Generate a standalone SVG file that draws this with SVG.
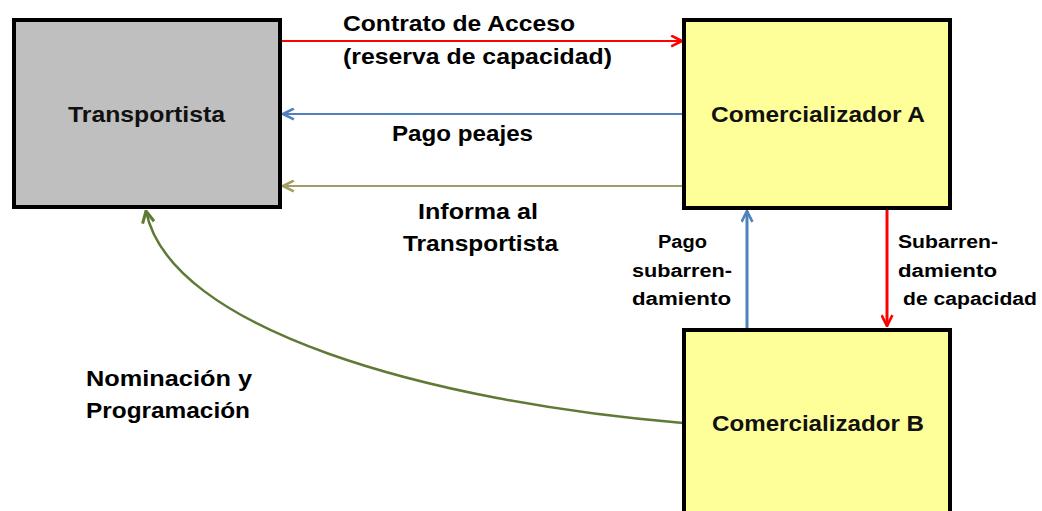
<svg xmlns="http://www.w3.org/2000/svg" width="1042" height="511" viewBox="0 0 1042 511">
<defs>
<style>
.box{stroke:#000;stroke-width:4}
.nt{font-family:"Liberation Sans",Arial,sans-serif;font-size:22px;font-weight:bold;fill:#111;text-anchor:middle}
.lb{font-family:"Liberation Sans",Arial,sans-serif;font-size:22px;font-weight:bold;fill:#000}
.sm{font-family:"Liberation Sans",Arial,sans-serif;font-size:18px;font-weight:bold;fill:#000}
.c{fill:none}
</style>
<marker id="ar" viewBox="0 0 12 12" refX="11" refY="6" markerWidth="12" markerHeight="12" markerUnits="userSpaceOnUse" orient="auto">
<path d="M1,1 L11,6 L1,11" fill="none" stroke="context-stroke" stroke-width="2.2"/>
</marker>
<marker id="ar-red" viewBox="0 0 12 12" refX="11" refY="6" markerWidth="13" markerHeight="13" markerUnits="userSpaceOnUse" orient="auto"><path d="M1,1 L11,6 L1,11" fill="none" stroke="#ff0000" stroke-width="2.4"/></marker>
<marker id="ar-blue" viewBox="0 0 12 12" refX="11" refY="6" markerWidth="13" markerHeight="13" markerUnits="userSpaceOnUse" orient="auto"><path d="M1,1 L11,6 L1,11" fill="none" stroke="#4f81bd" stroke-width="2.4"/></marker>
<marker id="ar-olive" viewBox="0 0 12 12" refX="11" refY="6" markerWidth="13" markerHeight="13" markerUnits="userSpaceOnUse" orient="auto"><path d="M1,1 L11,6 L1,11" fill="none" stroke="#a39c64" stroke-width="2.4"/></marker>
<marker id="ar-green" viewBox="0 0 12 12" refX="11" refY="6" markerWidth="14" markerHeight="14" markerUnits="userSpaceOnUse" orient="auto"><path d="M1,1 L11,6 L1,11" fill="none" stroke="#5e7a34" stroke-width="2.6"/></marker>
</defs>
<rect width="1042" height="511" fill="#fff"/>

<g id="connectors">
<line class="c" x1="281" y1="41" x2="682" y2="41" stroke="#ff0000" stroke-width="2" marker-end="url(#ar-red)"/>
<line class="c" x1="682" y1="114" x2="283" y2="114" stroke="#4f81bd" stroke-width="2" marker-end="url(#ar-blue)"/>
<line class="c" x1="682" y1="186" x2="283" y2="186" stroke="#a39c64" stroke-width="2" marker-end="url(#ar-olive)"/>
<line class="c" x1="747" y1="328" x2="747" y2="211" stroke="#4f81bd" stroke-width="3" marker-end="url(#ar-blue)"/>
<line class="c" x1="887" y1="210" x2="887" y2="326" stroke="#ff0000" stroke-width="3" marker-end="url(#ar-red)"/>
<path class="c" d="M683,423 C430,402 170,330 146,211" stroke="#5e7a34" stroke-width="2.5" marker-end="url(#ar-green)"/>
</g>

<g id="transportista">
<rect class="box" x="14" y="20" width="266" height="187" fill="#bfbfbf"/>
<text class="nt" x="146.5" y="122" textLength="157" lengthAdjust="spacingAndGlyphs">Transportista</text>
</g>
<g id="comercializador-a">
<rect class="box" x="684" y="20" width="266" height="188" fill="#ffff99"/>
<text class="nt" x="818" y="122" textLength="214" lengthAdjust="spacingAndGlyphs">Comercializador A</text>
</g>
<g id="comercializador-b">
<rect class="box" x="684" y="330" width="266" height="200" fill="#ffff99"/>
<text class="nt" x="818" y="431" textLength="212" lengthAdjust="spacingAndGlyphs">Comercializador B</text>
</g>

<g id="labels">
<text class="lb" x="343" y="31" textLength="232" lengthAdjust="spacingAndGlyphs">Contrato de Acceso</text>
<text class="lb" x="343" y="64" textLength="269" lengthAdjust="spacingAndGlyphs">(reserva de capacidad)</text>
<text class="lb" x="392" y="141" textLength="141" lengthAdjust="spacingAndGlyphs">Pago peajes</text>
<text class="lb" x="418" y="219" textLength="120" lengthAdjust="spacingAndGlyphs">Informa al</text>
<text class="lb" x="403" y="251" textLength="155" lengthAdjust="spacingAndGlyphs">Transportista</text>
<text class="sm" x="658" y="248" textLength="49" lengthAdjust="spacingAndGlyphs">Pago</text>
<text class="sm" x="632" y="277" textLength="100" lengthAdjust="spacingAndGlyphs">subarren-</text>
<text class="sm" x="632" y="305" textLength="99" lengthAdjust="spacingAndGlyphs">damiento</text>
<text class="sm" x="898" y="248" textLength="100" lengthAdjust="spacingAndGlyphs">Subarren-</text>
<text class="sm" x="898" y="277" textLength="99" lengthAdjust="spacingAndGlyphs">damiento</text>
<text class="sm" x="903" y="305" textLength="134" lengthAdjust="spacingAndGlyphs">de capacidad</text>
<text class="lb" x="86" y="386" textLength="166" lengthAdjust="spacingAndGlyphs">Nominación y</text>
<text class="lb" x="86" y="418" textLength="164" lengthAdjust="spacingAndGlyphs">Programación</text>
</g>
</svg>
